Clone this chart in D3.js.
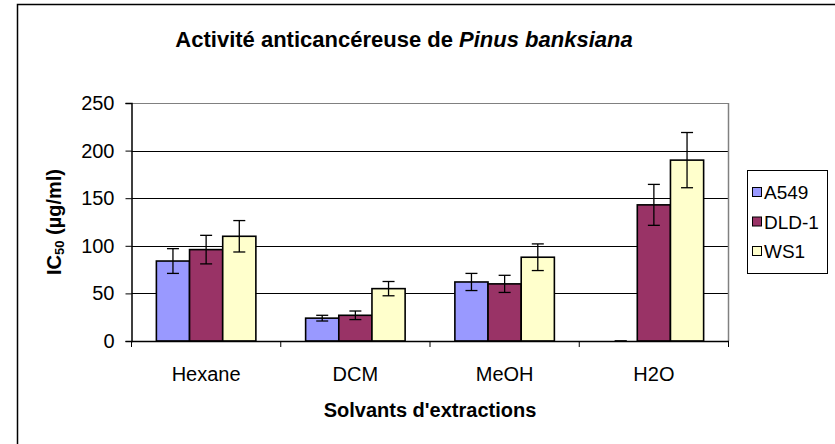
<!DOCTYPE html>
<html>
<head>
<meta charset="utf-8">
<script src="https://cdn.jsdelivr.net/npm/d3@7"></script>
<style>
  html, body { margin: 0; padding: 0; background: #fff; }
  svg { display: block; font-family: "Liberation Sans", Arial, sans-serif; }
</style>
</head>
<body>
<svg id="chart" width="835" height="444"></svg>
<script>
const categories = ["Hexane", "DCM", "MeOH", "H2O"];
const seriesNames = ["A549", "DLD-1", "WS1"];
const seriesColors = ["#9999FF", "#993366", "#FFFFCC"];
const a549 = [84, 24, 62, 0];
const a549Err = [13, 3, 9, 0];
const dld1 = [96, 27, 60, 143];
const dld1Err = [15, 4.5, 9, 21.5];
const ws1 = [110, 55, 88, 190];
const ws1Err = [16.5, 7.5, 14, 29];
const yTicks = [0, 50, 100, 150, 200, 250];

const values = [a549, dld1, ws1];
const errors = [a549Err, dld1Err, ws1Err];

const svg = d3.select("#chart");
const plot = { left: 131.5, right: 728.5, top: 103, bottom: 341 };

// chart frame
svg.append("path")
  .attr("d", "M17.5,450 L17.5,4.5 L845,4.5")
  .attr("fill", "none").attr("stroke", "#000").attr("stroke-width", 1.5);

const x0 = d3.scaleBand().domain(categories).range([plot.left, plot.right]).padding(0);
const x1 = d3.scaleBand().domain(seriesNames).range([0, x0.bandwidth()]).paddingInner(0).paddingOuter(0.75);
const y = d3.scaleLinear().domain([0, 250]).range([plot.bottom, plot.top]);

// gridlines
svg.append("g").selectAll("line").data(yTicks.filter(d => d > 0)).join("line")
  .attr("x1", plot.left).attr("x2", plot.right)
  .attr("y1", d => Math.round(y(d)) + 0.5).attr("y2", d => Math.round(y(d)) + 0.5)
  .attr("stroke", d => d === 250 ? "#808080" : "#000").attr("stroke-width", 1);

// plot border right
svg.append("line").attr("x1", plot.right).attr("x2", plot.right)
  .attr("y1", plot.top).attr("y2", plot.bottom).attr("stroke", "#808080").attr("stroke-width", 1.5);

// bars
const groups = svg.append("g").selectAll("g").data(seriesNames).join("g");
groups.each(function(s, si) {
  const g = d3.select(this);
  g.selectAll("rect").data(categories).join("rect")
    .attr("x", c => x0(c) + x1(s))
    .attr("y", (c, i) => y(values[si][i]))
    .attr("width", x1.bandwidth())
    .attr("height", (c, i) => plot.bottom - y(values[si][i]))
    .attr("fill", seriesColors[si])
    .attr("stroke", "#000").attr("stroke-width", 1.6);
});

// error bars
const capW = 12;
groups.each(function(s, si) {
  const g = d3.select(this);
  categories.forEach((c, i) => {
    const cx = x0(c) + x1(s) + x1.bandwidth() / 2;
    const v = values[si][i], e = errors[si][i];
    g.append("line").attr("x1", cx).attr("x2", cx)
      .attr("y1", y(v + e)).attr("y2", y(v - e))
      .attr("stroke", "#000").attr("stroke-width", 1.3);
    [v + e, v - e].forEach(t => {
      g.append("line").attr("x1", cx - capW / 2).attr("x2", cx + capW / 2)
        .attr("y1", y(t)).attr("y2", y(t))
        .attr("stroke", "#000").attr("stroke-width", 1.3);
    });
  });
});

// y axis
const yAxis = d3.axisLeft(y).tickValues(yTicks).tickSize(6).tickPadding(11);
const yg = svg.append("g").attr("transform", `translate(${plot.left},0)`).call(yAxis);
yg.select(".domain").attr("stroke", "#000").attr("stroke-width", 1.5);
yg.selectAll(".tick line").attr("stroke", "#000");
yg.selectAll("text").attr("font-size", 20).attr("fill", "#000").attr("font-family", "Liberation Sans, Arial, sans-serif");

// x axis
const xAxis = d3.axisBottom(x0).tickSize(0).tickPadding(26);
const xg = svg.append("g").attr("transform", `translate(0,${plot.bottom})`).call(xAxis);
xg.select(".domain").attr("stroke", "#000").attr("stroke-width", 1.5);
xg.selectAll("text").attr("font-size", 20).attr("fill", "#000").attr("font-family", "Liberation Sans, Arial, sans-serif");
// category boundary ticks
svg.append("g").selectAll("line").data(categories.concat(["end"])).join("line")
  .attr("x1", (c, i) => i < categories.length ? x0(c) : plot.right)
  .attr("x2", (c, i) => i < categories.length ? x0(c) : plot.right)
  .attr("y1", plot.bottom).attr("y2", plot.bottom + 6)
  .attr("stroke", "#000").attr("stroke-width", 1);

// title
const title = svg.append("text").attr("x", 404).attr("y", 47).attr("text-anchor", "middle")
  .attr("font-size", 22).attr("font-weight", "bold");
title.append("tspan").text("Activité anticancéreuse de ");
title.append("tspan").attr("font-style", "italic").text("Pinus banksiana");

// y axis title
const yt = svg.append("text").attr("transform", "translate(61,222) rotate(-90)")
  .attr("text-anchor", "middle").attr("font-size", 20).attr("font-weight", "bold");
yt.append("tspan").text("IC");
yt.append("tspan").attr("font-size", 13).attr("dy", 3).text("50");
yt.append("tspan").attr("dy", -3).text(" (µg/ml)");

// x axis title
svg.append("text").attr("x", 430).attr("y", 417).attr("text-anchor", "middle")
  .attr("font-size", 20).attr("font-weight", "bold").text("Solvants d'extractions");

// legend
const leg = svg.append("g");
leg.append("rect").attr("x", 747.5).attr("y", 170.5).attr("width", 80).attr("height", 103)
  .attr("fill", "#fff").attr("stroke", "#000").attr("stroke-width", 1);
seriesNames.forEach((s, i) => {
  const cy = 192 + i * 29.5;
  leg.append("rect").attr("x", 752.5).attr("y", cy - 4.5).attr("width", 9).attr("height", 9)
    .attr("fill", seriesColors[i]).attr("stroke", "#000").attr("stroke-width", 1);
  leg.append("text").attr("x", 764).attr("y", cy + 7).attr("font-size", 19).text(s);
});
</script>
</body>
</html>
